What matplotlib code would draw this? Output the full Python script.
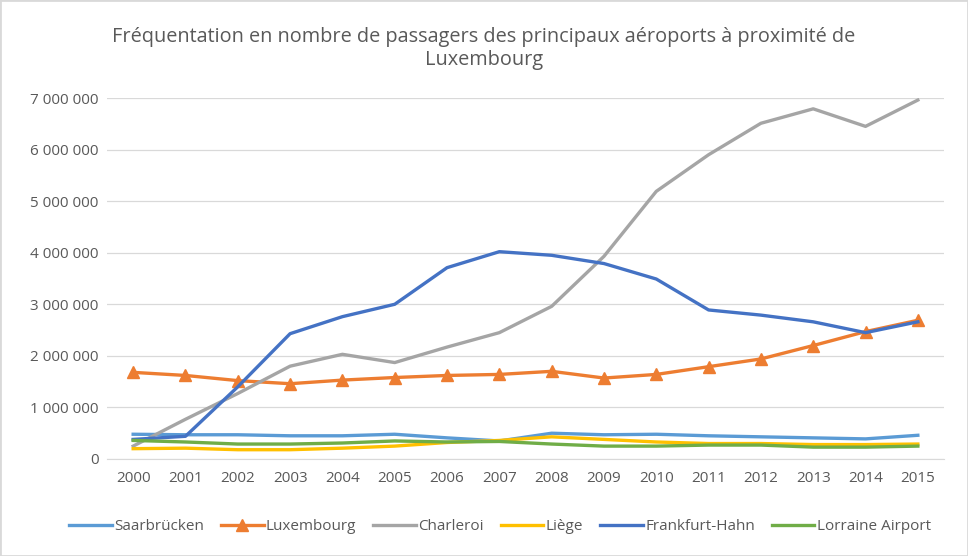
import matplotlib
matplotlib.use("Agg")
import matplotlib.pyplot as plt
from matplotlib.ticker import FuncFormatter, MultipleLocator
from matplotlib.patches import Rectangle

years = [str(y) for y in range(2000, 2016)]
saarbrucken = [480000, 470000, 470000, 450000, 450000, 480000, 410000, 350000, 500000, 470000, 480000, 450000, 430000, 410000, 390000, 460000]
luxembourg = [1680000, 1620000, 1520000, 1460000, 1530000, 1580000, 1620000, 1640000, 1700000, 1570000, 1640000, 1790000, 1940000, 2200000, 2470000, 2690000]
charleroi = [250000, 770000, 1270000, 1800000, 2030000, 1870000, 2170000, 2450000, 2960000, 3930000, 5190000, 5900000, 6510000, 6790000, 6450000, 6960000]
liege = [200000, 210000, 180000, 180000, 210000, 250000, 320000, 360000, 430000, 380000, 330000, 300000, 300000, 280000, 280000, 290000]
frankfurt_hahn = [380000, 440000, 1400000, 2430000, 2760000, 3000000, 3710000, 4020000, 3950000, 3790000, 3490000, 2890000, 2790000, 2660000, 2450000, 2660000]
lorraine = [360000, 330000, 290000, 290000, 310000, 350000, 330000, 340000, 290000, 250000, 250000, 270000, 270000, 230000, 230000, 250000]

series = [
    ("Saarbrücken", saarbrucken, "#5B9BD5", None),
    ("Luxembourg", luxembourg, "#ED7D31", "^"),
    ("Charleroi", charleroi, "#A5A5A5", None),
    ("Liège", liege, "#FFC000", None),
    ("Frankfurt-Hahn", frankfurt_hahn, "#4472C4", None),
    ("Lorraine Airport", lorraine, "#70AD47", None),
]

plt.rcParams['font.family'] = ['Open Sans', 'DejaVu Sans']
txt = "#595959"

fig = plt.figure(figsize=(9.68, 5.56), dpi=100)
fig.patches.append(Rectangle((0, 0), 1, 1, transform=fig.transFigure, fill=False,
                             edgecolor="#D9D9D9", linewidth=2))
ax = fig.add_axes([107/968, 1 - 459/556, (944 - 107)/968, (459 - 98)/556])

x = list(range(len(years)))
for name, vals, color, marker in series:
    ax.plot(x, vals, color=color, linewidth=2.4, label=name,
            marker=marker, markersize=8 if marker else 0, solid_joinstyle='round')

ax.set_xlim(-0.5, len(years) - 0.5)
ax.set_ylim(0, 7000000)
ax.yaxis.set_major_locator(MultipleLocator(1000000))
ax.yaxis.set_major_formatter(FuncFormatter(lambda v, p: f"{int(v):,}".replace(",", " ")))
ax.set_xticks(x)
ax.set_xticklabels(years)
ax.grid(axis='y', color="#D9D9D9", linewidth=0.9)
ax.set_axisbelow(True)
for s in ['top', 'right', 'left']:
    ax.spines[s].set_visible(False)
ax.spines['bottom'].set_color("#D9D9D9")
ax.tick_params(axis='both', length=0, colors=txt, labelsize=11)
ax.tick_params(axis='x', pad=9)
ax.tick_params(axis='y', pad=6)

fig.text(0.5, 1 - 37/556, "Fréquentation en nombre de passagers des principaux aéroports à proximité de",
         ha='center', va='center', fontsize=14.3, color=txt)
fig.text(0.5, 1 - 60/556, "Luxembourg", ha='center', va='center', fontsize=14.3, color=txt)

fig.legend(loc='center', bbox_to_anchor=(500/968, 1 - 527/556), ncol=6, frameon=False,
           fontsize=11, labelcolor=txt, handlelength=2.8, handletextpad=0.15, columnspacing=1.1)

fig.savefig("out.png", dpi=100, facecolor="white")
